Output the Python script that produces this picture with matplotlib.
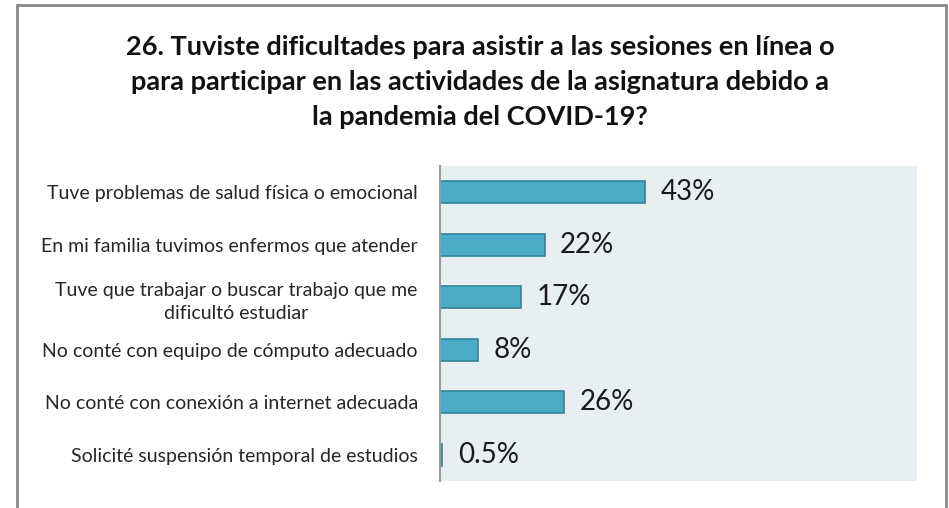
import matplotlib.pyplot as plt
from matplotlib.patches import Rectangle

categories = [
    'Tuve problemas de salud física o emocional',
    'En mi familia tuvimos enfermos que atender',
    'Tuve que trabajar o buscar trabajo que me\ndificultó estudiar',
    'No conté con equipo de cómputo adecuado',
    'No conté con conexión a internet adecuada',
    'Solicité suspensión temporal de estudios',
]
values = [43, 22, 17, 8, 26, 0.5]
value_labels = ['43%', '22%', '17%', '8%', '26%', '0.5%']
title = ('26. Tuviste dificultades para asistir a las sesiones en línea o\n'
         'para participar en las actividades de la asignatura debido a\n'
         'la pandemia del COVID-19?')

plt.rcParams['font.family'] = ['Lato', 'DejaVu Sans']

fig = plt.figure(figsize=(9.49, 5.08), dpi=100)
ax = fig.add_axes([440/949, 27/508, 477/949, 315/508])
ax.set_facecolor('#E8EFF3')

ypos = list(range(len(categories)))
ax.barh(ypos, values, height=0.42, color='#4BACC6', edgecolor='#31849B', linewidth=1.2)
for y, v, lab in zip(ypos, values, value_labels):
    ax.annotate(lab, (v, y), xytext=(11, 0), textcoords='offset points',
                va='center', ha='left', fontsize=20, color='#1a1a1a')

ax.set_xlim(0, 100)
ax.set_ylim(len(categories) - 0.5, -0.5)
ax.set_yticks(ypos)
ax.set_yticklabels(categories, fontsize=14, color='#262626',
                   multialignment='center', linespacing=1.45)
ax.set_xticks([])
ax.tick_params(axis='y', length=0, pad=16)
for s in ['top', 'right', 'bottom']:
    ax.spines[s].set_visible(False)
ax.spines['left'].set_color('#999999')
ax.spines['left'].set_linewidth(1.5)

fig.text(480/949, 1 - 82/508, title, ha='center', va='center', fontsize=19.5,
         fontweight='bold', color='#111111', linespacing=1.55)

# outer frame (bottom edge is cut off in the original)
fig.patches.append(Rectangle((17/949, -0.05), 929/949, 1.05 - 5/508,
                             transform=fig.transFigure, fill=False,
                             edgecolor='#888888', linewidth=2))

fig.savefig('out.png', dpi=100)
